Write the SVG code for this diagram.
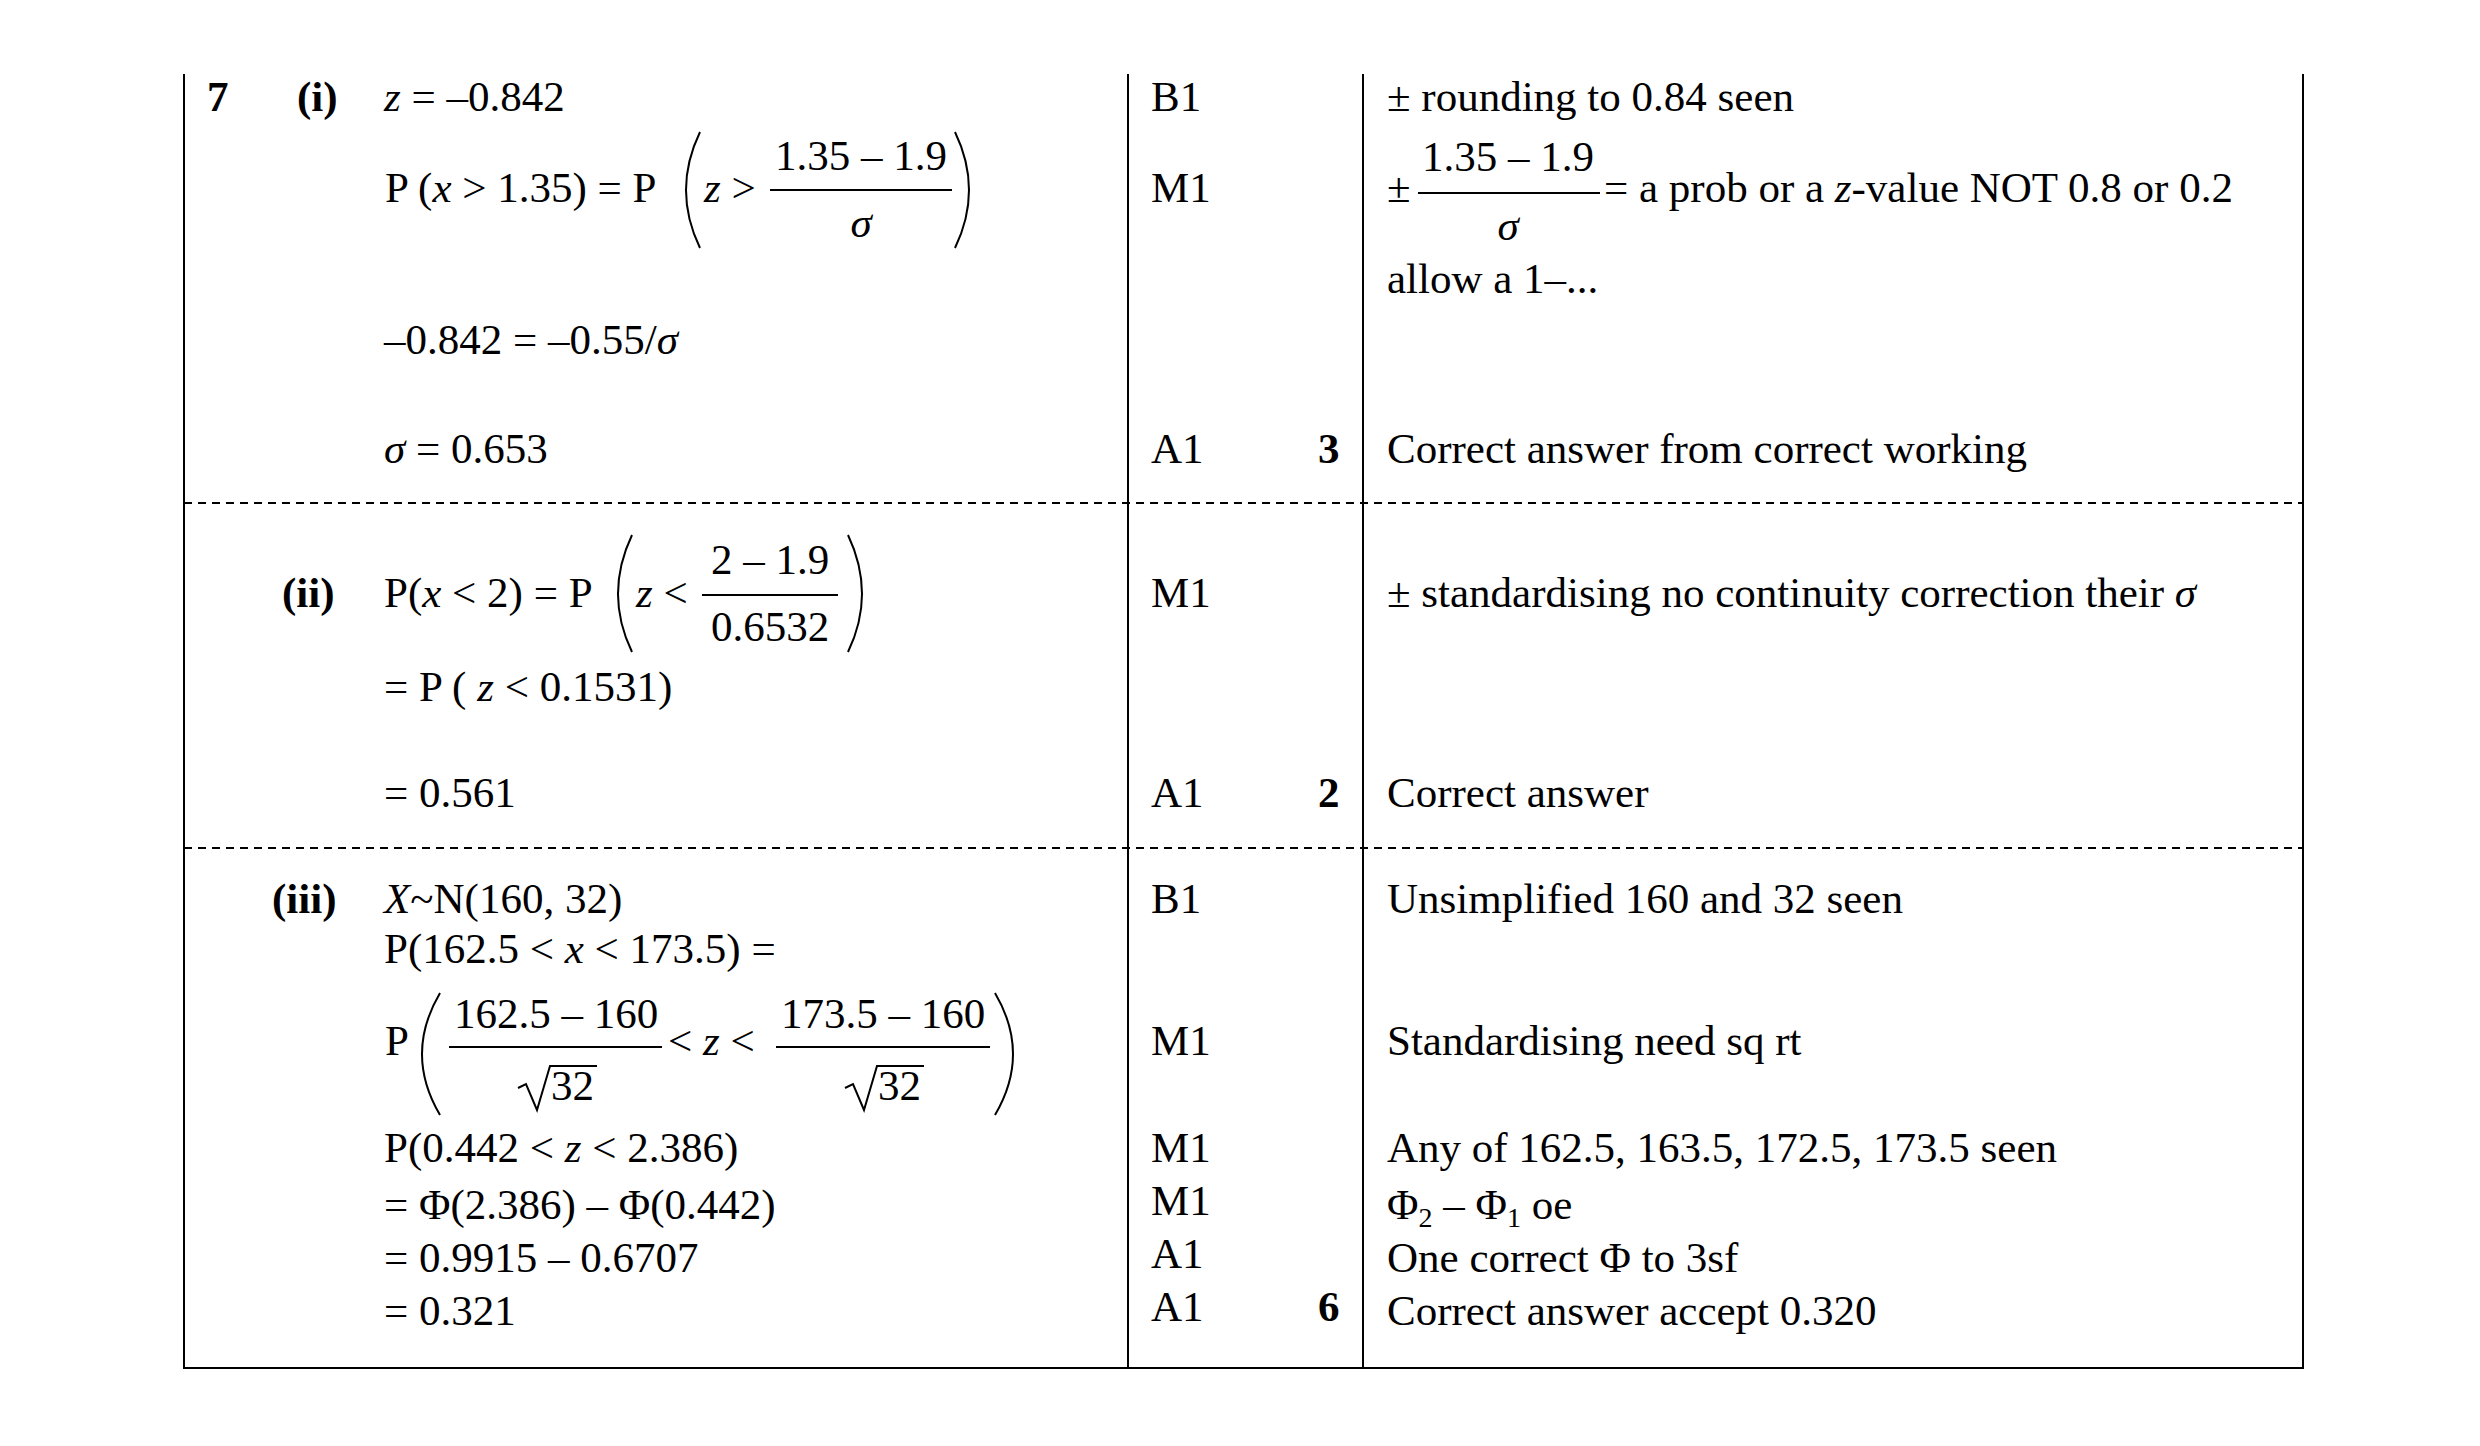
<svg xmlns="http://www.w3.org/2000/svg" width="2480" height="1446" viewBox="0 0 2480 1446">
<style>
text{font-family:"Liberation Serif","Times New Roman",serif;font-size:43px;fill:#000}
.b{font-weight:bold}
.i{font-style:italic}
.m{text-anchor:middle}
.ln{stroke:#000;stroke-width:2;fill:none}
.d{stroke:#000;stroke-width:2;stroke-dasharray:8 6}
.p{stroke:#000;stroke-width:2;fill:none}
</style>
<rect width="2480" height="1446" fill="#fff"/>
<g id="grid">
<line class="ln" x1="184" y1="74" x2="184" y2="1368"/>
<line class="ln" x1="1128" y1="74" x2="1128" y2="1368"/>
<line class="ln" x1="1363" y1="74" x2="1363" y2="1368"/>
<line class="ln" x1="2303" y1="74" x2="2303" y2="1368"/>
<line class="ln" x1="183" y1="1368" x2="2304" y2="1368"/>
<line class="d" x1="184" y1="503" x2="2303" y2="503"/>
<line class="d" x1="184" y1="848" x2="2303" y2="848"/>
</g>
<g id="part-i">
<text class="b" x="207" y="111">7</text>
<text class="b" x="297" y="111">(i)</text>
<text x="384" y="111"><tspan class="i">z</tspan> = –0.842</text>
<text x="385" y="202">P (<tspan class="i">x</tspan> &gt; 1.35) = P</text>
<path class="p" d="M700,132 Q672,190 700,248"/>
<text x="704" y="202"><tspan class="i">z</tspan> &gt;</text>
<text class="m" x="861" y="170">1.35 – 1.9</text>
<line class="ln" x1="770" y1="190" x2="952" y2="190"/>
<text class="m i" x="861" y="237">σ</text>
<path class="p" d="M955,132 Q983,190 955,248"/>
<text x="384" y="354">–0.842 = –0.55/<tspan class="i">σ</tspan></text>
<text x="384" y="463"><tspan class="i">σ</tspan> = 0.653</text>
<text x="1151" y="111">B1</text>
<text x="1151" y="202">M1</text>
<text x="1151" y="463">A1</text>
<text class="b" x="1318" y="463">3</text>
<text x="1387" y="111">± rounding to 0.84 seen</text>
<text x="1387" y="202">±</text>
<text class="m" x="1508" y="171">1.35 – 1.9</text>
<line class="ln" x1="1418" y1="193" x2="1600" y2="193"/>
<text class="m i" x="1508" y="240">σ</text>
<text x="1604" y="202">= a prob or a <tspan class="i">z</tspan>-value NOT 0.8 or 0.2</text>
<text x="1387" y="293">allow a 1–...</text>
<text x="1387" y="463">Correct answer from correct working</text>
</g>
<g id="part-ii">
<text class="b" x="282" y="607">(ii)</text>
<text x="384" y="607">P(<tspan class="i">x</tspan> &lt; 2) = P</text>
<path class="p" d="M632,535 Q604,594 632,652"/>
<text x="636" y="607"><tspan class="i">z</tspan> &lt;</text>
<text class="m" x="770" y="574">2 – 1.9</text>
<line class="ln" x1="702" y1="595" x2="838" y2="595"/>
<text class="m" x="770" y="641">0.6532</text>
<path class="p" d="M848,535 Q876,594 848,652"/>
<text x="384" y="701">= P ( <tspan class="i">z</tspan> &lt; 0.1531)</text>
<text x="384" y="807">= 0.561</text>
<text x="1151" y="607">M1</text>
<text x="1151" y="807">A1</text>
<text class="b" x="1318" y="807">2</text>
<text x="1387" y="607">± standardising no continuity correction their <tspan class="i">σ</tspan></text>
<text x="1387" y="807">Correct answer</text>
</g>
<g id="part-iii">
<text class="b" x="272" y="913">(iii)</text>
<text x="384" y="913"><tspan class="i">X</tspan>~N(160, 32)</text>
<text x="384" y="963">P(162.5 &lt; <tspan class="i">x</tspan> &lt; 173.5) =</text>
<text x="385" y="1055">P</text>
<path class="p" d="M440,993 Q404,1054 440,1115"/>
<text class="m" x="556" y="1028">162.5 – 160</text>
<line class="ln" x1="449" y1="1047" x2="662" y2="1047"/>
<path class="p" d="M518,1088 L526,1084 L537,1110 L550,1066 L597,1066"/>
<text x="551" y="1100">32</text>
<text x="668" y="1055">&lt; <tspan class="i">z</tspan> &lt;</text>
<text class="m" x="883" y="1028">173.5 – 160</text>
<line class="ln" x1="776" y1="1047" x2="990" y2="1047"/>
<path class="p" d="M845,1088 L853,1084 L864,1110 L877,1066 L924,1066"/>
<text x="878" y="1100">32</text>
<path class="p" d="M995,993 Q1031,1054 995,1115"/>
<text x="384" y="1162">P(0.442 &lt; <tspan class="i">z</tspan> &lt;  2.386)</text>
<text x="384" y="1219">= Φ(2.386) – Φ(0.442)</text>
<text x="384" y="1272">= 0.9915 – 0.6707</text>
<text x="384" y="1325">= 0.321</text>
<text x="1151" y="913">B1</text>
<text x="1151" y="1055">M1</text>
<text x="1151" y="1162">M1</text>
<text x="1151" y="1215">M1</text>
<text x="1151" y="1268">A1</text>
<text x="1151" y="1321">A1</text>
<text class="b" x="1318" y="1321">6</text>
<text x="1387" y="913">Unsimplified 160 and 32 seen</text>
<text x="1387" y="1055">Standardising need sq rt</text>
<text x="1387" y="1162">Any of 162.5, 163.5, 172.5, 173.5 seen</text>
<text x="1387" y="1219">Φ<tspan font-size="28" dy="8">2</tspan><tspan dy="-8"> – Φ</tspan><tspan font-size="28" dy="8">1</tspan><tspan dy="-8"> oe</tspan></text>
<text x="1387" y="1272">One correct Φ to 3sf</text>
<text x="1387" y="1325">Correct answer accept 0.320</text>
</g>
</svg>
